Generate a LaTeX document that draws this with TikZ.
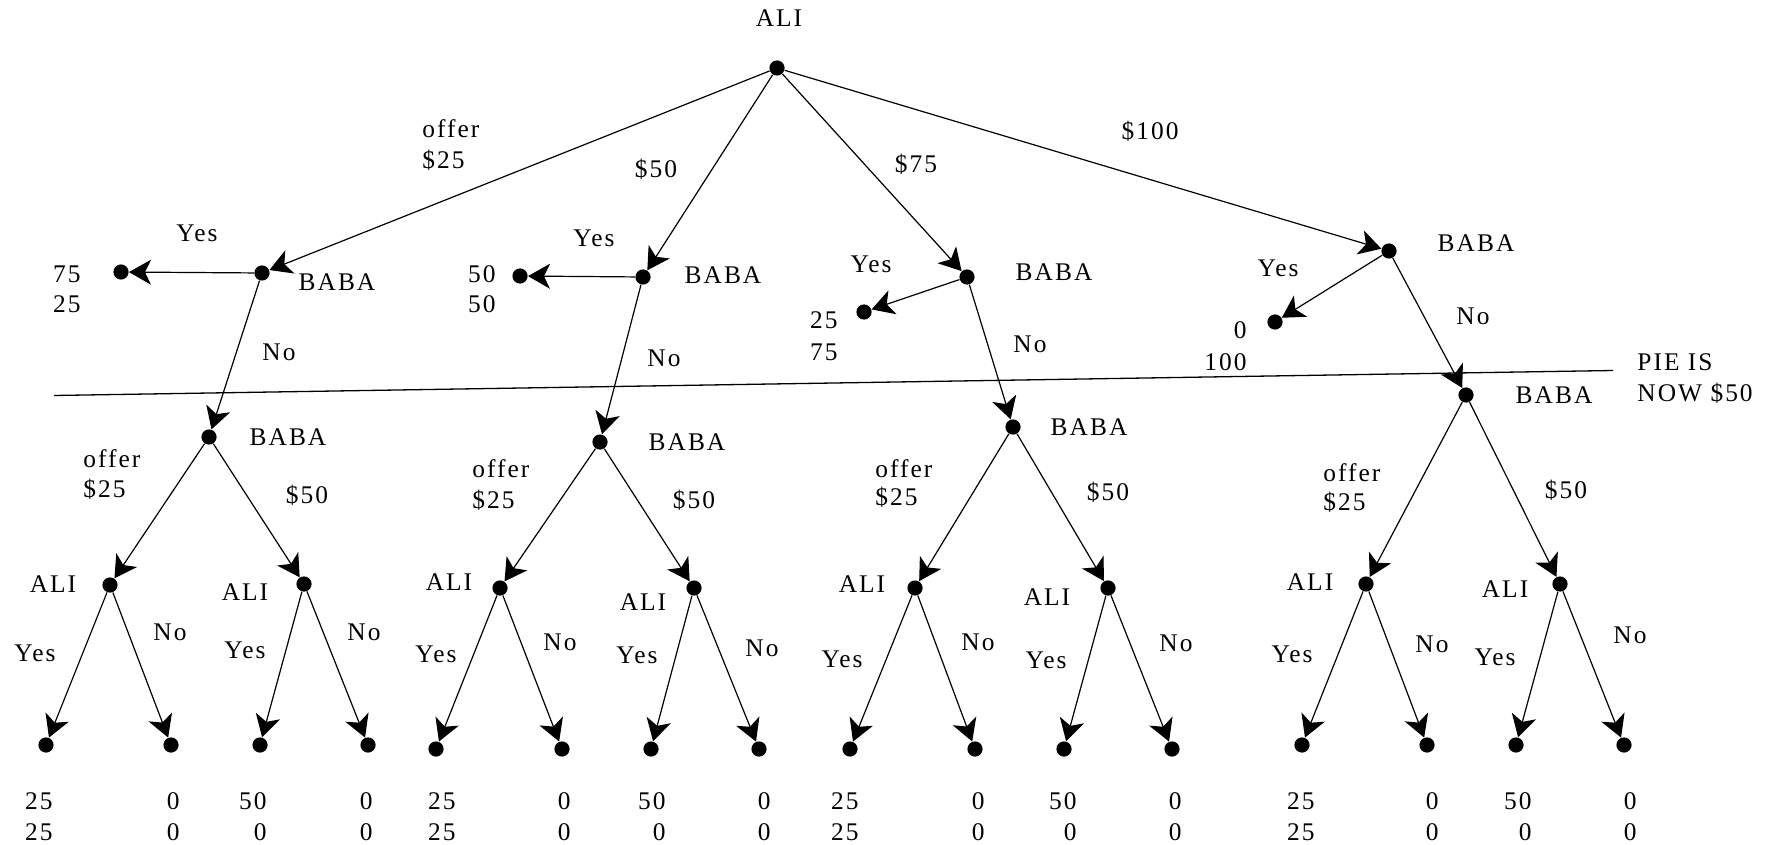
\documentclass[tikz,border=0pt]{standalone}
\usepackage{fontspec}
\setmainfont{Liberation Serif}[LetterSpace=8]
\usetikzlibrary{arrows.meta}
\tikzset{
  dot/.style={circle, fill=black, inner sep=0pt, minimum size=7.6pt},
  lbl/.style={inner sep=0pt, anchor=base},
  lbll/.style={inner sep=0pt, anchor=base west},
  lblr/.style={inner sep=0pt, anchor=base east},
  arr/.style={-{Stealth[length=11pt,width=12.5pt,inset=3pt]}, line width=0.6pt},
  pieline/.style={line width=0.65pt}
}
\begin{document}
\begin{tikzpicture}[x=0.5pt,y=-0.5pt,font=\fontsize{12.7}{15.5}\selectfont]
\useasboundingbox (0,0) rectangle (1771,845);

% ---------- dots ----------
\node[dot] (root) at (777,68) {};
\node[dot] (b1) at (262,273) {};
\node[dot] (b2) at (643,277) {};
\node[dot] (b3) at (967,277) {};
\node[dot] (b4) at (1389,251) {};
\node[dot] (t1) at (121,272) {};
\node[dot] (t2) at (520,276) {};
\node[dot] (t3) at (864,312) {};
\node[dot] (t4) at (1275,322) {};
\node[dot] (c1) at (209,437) {};
\node[dot] (c2) at (600,442) {};
\node[dot] (c3) at (1013,427) {};
\node[dot] (c4) at (1466,395) {};
\node[dot] (a11) at (110,585) {};
\node[dot] (a12) at (304,584) {};
\node[dot] (a21) at (500,588) {};
\node[dot] (a22) at (694,588) {};
\node[dot] (a31) at (915,588) {};
\node[dot] (a32) at (1108,588) {};
\node[dot] (a41) at (1366,584) {};
\node[dot] (a42) at (1560,584) {};
\node[dot] (l11) at (46,745) {};
\node[dot] (l12) at (171,745) {};
\node[dot] (l13) at (260,745) {};
\node[dot] (l14) at (368,745) {};
\node[dot] (l21) at (436,749) {};
\node[dot] (l22) at (562,749) {};
\node[dot] (l23) at (651,749) {};
\node[dot] (l24) at (759,749) {};
\node[dot] (l31) at (850,749) {};
\node[dot] (l32) at (975,749) {};
\node[dot] (l33) at (1064,749) {};
\node[dot] (l34) at (1172,749) {};
\node[dot] (l41) at (1302,745) {};
\node[dot] (l42) at (1427,745) {};
\node[dot] (l43) at (1516,745) {};
\node[dot] (l44) at (1624,745) {};

% ---------- connectors ----------
\foreach \i in {1,2,3,4} {
  \draw[arr] (root) -- (b\i);
  \draw[arr] (b\i) -- (t\i);
  \draw[arr] (b\i) -- (c\i);
  \draw[arr] (c\i) -- (a\i1);
  \draw[arr] (c\i) -- (a\i2);
  \draw[arr] (a\i1) -- (l\i1);
  \draw[arr] (a\i1) -- (l\i2);
  \draw[arr] (a\i2) -- (l\i3);
  \draw[arr] (a\i2) -- (l\i4);
}

% divider line
\coordinate (pieL) at (54,395.5);
\coordinate (pieR) at (1613,370.5);
\draw[pieline] (pieL) -- (pieR);
\node[lbll] (pie1) at (1637,370) {PIE IS};
\node[lbll] (pie2) at (1637,401) {NOW \$50};

% ---------- labels: top ----------
\node[lbl] (tali) at (779,27) {ALI};
\node[lbll] (o1a) at (422,138) {offer};
\node[lbll] (o1b) at (422,169) {\$25};
\node[lbl] (o2) at (656,178) {\$50};
\node[lbl] (o3) at (916,173) {\$75};
\node[lbl] (o4) at (1150,140) {\$100};

\node[lbl] (bb1) at (337,291) {BABA};
\node[lbl] (bb2) at (723,284) {BABA};
\node[lbl] (bb3) at (1054,280) {BABA};
\node[lbl] (bb4) at (1476,252) {BABA};

\node[lbl] (y1) at (197,242) {Yes};
\node[lbl] (y2) at (594,247) {Yes};
\node[lbl] (y3) at (871,272) {Yes};
\node[lbl] (y4) at (1278,277) {Yes};

\node[lbl] (n1) at (279,360) {No};
\node[lbl] (n2) at (664,366) {No};
\node[lbl] (n3) at (1030,352) {No};
\node[lbl] (n4) at (1473,324) {No};

\node[lblr] (p1a) at (81,282) {75};
\node[lblr] (p1b) at (81,313) {25};
\node[lblr] (p2a) at (496,283) {50};
\node[lblr] (p2b) at (496,313) {50};
\node[lblr] (p3a) at (838,328) {25};
\node[lblr] (p3b) at (838,360) {75};
\node[lblr] (p4a) at (1247,338) {0};
\node[lblr] (p4b) at (1247,370) {100};

% ---------- labels: second BABA ----------
\node[lbl] (cc1) at (288,445) {BABA};
\node[lbl] (cc2) at (687,450) {BABA};
\node[lbl] (cc3) at (1089,435) {BABA};
\node[lbl] (cc4) at (1554,403) {BABA};

\node[lbll] (q1a) at (83,467) {offer};
\node[lbll] (q1b) at (83,497) {\$25};
\node[lbl] (q1c) at (307,503) {\$50};
\node[lbll] (q2a) at (472,477) {offer};
\node[lbll] (q2b) at (472,508) {\$25};
\node[lbl] (q2c) at (694,508) {\$50};
\node[lbll] (q3a) at (875,477) {offer};
\node[lbll] (q3b) at (875,505) {\$25};
\node[lbl] (q3c) at (1108,500) {\$50};
\node[lbll] (q4a) at (1323,481) {offer};
\node[lbll] (q4b) at (1323,510) {\$25};
\node[lbl] (q4c) at (1566,498) {\$50};

% ---------- labels: ALI ----------
\node[lbl] (al11) at (53,592) {ALI};
\node[lbl] (al12) at (245,600) {ALI};
\node[lbl] (al21) at (449,590) {ALI};
\node[lbl] (al22) at (643,610) {ALI};
\node[lbl] (al31) at (862,592) {ALI};
\node[lbl] (al32) at (1047,605) {ALI};
\node[lbl] (al41) at (1310,590) {ALI};
\node[lbl] (al42) at (1505,597) {ALI};

% ---------- labels: Yes / No ----------
\node[lbl] (ya11) at (35,661) {Yes};
\node[lbl] (na11) at (170,640) {No};
\node[lbl] (ya12) at (245,658) {Yes};
\node[lbl] (na12) at (364,640) {No};
\node[lbl] (ya21) at (436,662) {Yes};
\node[lbl] (na21) at (560,650) {No};
\node[lbl] (ya22) at (637,663) {Yes};
\node[lbl] (na22) at (762,656) {No};
\node[lbl] (ya31) at (842,667) {Yes};
\node[lbl] (na31) at (978,650) {No};
\node[lbl] (ya32) at (1046,668) {Yes};
\node[lbl] (na32) at (1176,651) {No};
\node[lbl] (ya41) at (1292,662) {Yes};
\node[lbl] (na41) at (1432,652) {No};
\node[lbl] (ya42) at (1495,665) {Yes};
\node[lbl] (na42) at (1630,643) {No};

% ---------- payoffs ----------
\foreach \g/\xa/\xb/\xc/\xd in {1/53/180/267/373, 2/456/571/666/771, 3/859/985/1077/1182, 4/1315/1439/1532/1637} {
  \node[lblr] (r\g a1) at (\xa,809) {25};
  \node[lblr] (r\g a2) at (\xa,840) {25};
  \node[lblr] (r\g b1) at (\xb,809) {0};
  \node[lblr] (r\g b2) at (\xb,840) {0};
  \node[lblr] (r\g c1) at (\xc,809) {50};
  \node[lblr] (r\g c2) at (\xc,840) {0};
  \node[lblr] (r\g d1) at (\xd,809) {0};
  \node[lblr] (r\g d2) at (\xd,840) {0};
}
\end{tikzpicture}
\end{document}
